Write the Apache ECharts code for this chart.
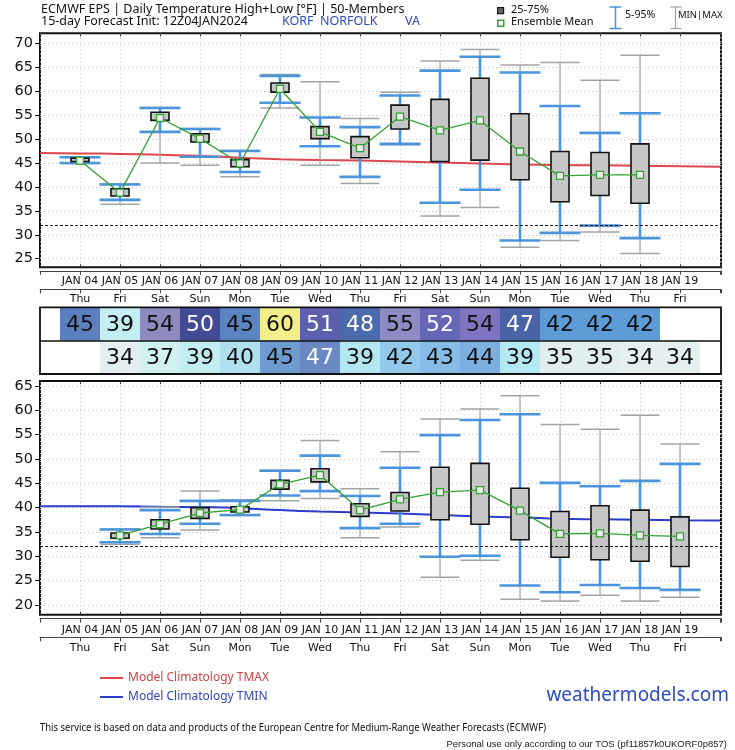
<!DOCTYPE html>
<html><head><meta charset="utf-8">
<script src="https://cdn.jsdelivr.net/npm/echarts@6/dist/echarts.min.js"></script>
<style>html,body{margin:0;padding:0;background:#fff}#c{width:735px;height:750px}</style>
</head><body><div id="c"></div>
<script>
// ---------- data ----------
const days = [4,5,6,7,8,9,10,11,12,13,14,15,16,17,18,19];
const dateLabels = ['JAN 04','JAN 05','JAN 06','JAN 07','JAN 08','JAN 09','JAN 10','JAN 11','JAN 12','JAN 13','JAN 14','JAN 15','JAN 16','JAN 17','JAN 18','JAN 19'];
const weekdays = ['Thu','Fri','Sat','Sun','Mon','Tue','Wed','Thu','Fri','Sat','Sun','Mon','Tue','Wed','Thu','Fri'];

const highDays = [4,5,6,7,8,9,10,11,12,13,14,15,16,17,18];
const highMin  = [44.9,36.4,45.0,44.5,42.1,56.5,44.5,40.7,48.8,33.9,35.7,27.4,28.8,30.6,26.1];
const highP5   = [45.0,37.3,51.5,46.3,43.1,57.6,48.5,42.1,49.0,36.7,39.4,28.8,30.4,31.9,29.3];
const highQ1   = [45.3,38.1,53.9,49.4,44.2,59.8,50.1,46.1,52.1,45.3,45.6,41.5,36.9,38.2,36.6];
const highQ3   = [46.0,39.6,55.6,51.1,45.7,61.7,52.6,50.5,57.1,58.3,62.7,55.3,47.4,47.2,49.0];
const highP95  = [46.2,40.5,56.5,52.1,47.5,63.2,54.5,52.5,59.1,64.3,67.2,63.9,56.9,51.3,55.4];
const highMax  = [46.3,40.6,56.6,52.2,47.6,63.5,62.0,54.3,59.8,66.3,68.7,65.5,66.0,62.3,67.5];
const highMean = [45.5,38.8,54.4,50.1,44.9,60.5,51.5,48.1,54.7,51.8,53.9,47.4,42.3,42.5,42.5];
const highTable = [45,39,54,50,45,60,51,48,55,52,54,47,42,42,42];

const lowDays = [5,6,7,8,9,10,11,12,13,14,15,16,17,18,19];
const lowMin  = [32.5,33.8,35.4,38.4,41.4,41.9,33.8,36.0,25.7,29.2,21.2,20.8,22.0,20.8,21.6];
const lowP5   = [32.9,34.6,36.7,38.5,42.5,43.4,35.8,36.7,29.9,30.1,24.0,22.6,24.1,23.5,23.1];
const lowQ1   = [33.7,35.6,37.8,39.1,43.8,45.3,38.2,39.3,37.5,36.6,33.4,29.8,29.3,29.0,27.9];
const lowQ3   = [34.8,37.5,40.0,40.2,45.6,48.0,40.8,43.1,48.3,49.1,44.0,39.2,40.4,39.5,38.1];
const lowP95  = [35.5,39.5,41.4,41.4,47.6,50.7,42.4,48.2,54.9,58.0,59.2,45.1,44.4,45.5,49.0];
const lowMax  = [35.6,40.1,43.4,41.6,47.7,53.8,43.9,51.5,58.2,60.3,63.0,57.1,56.1,59.0,53.1];
const lowMean = [34.3,36.6,38.9,39.6,44.8,46.7,39.5,41.7,43.2,43.6,39.4,34.6,34.7,34.3,34.1];
const lowTable = [34,37,39,40,45,47,39,42,43,44,39,35,35,34,34];

const climDays = [3,4,5,6,7,8,9,10,11,12,13,14,15,16,17,18,19,20];
const climTmax = [47.1,47.0,46.9,46.7,46.5,46.1,45.8,45.6,45.5,45.3,45.1,44.9,44.7,44.6,44.5,44.4,44.3,44.2];
const climTmin = [40.3,40.3,40.3,40.2,40.1,39.9,39.5,39.2,39.0,38.8,38.5,38.2,38.0,37.7,37.6,37.5,37.4,37.35];

const yTicksHigh = [25,30,35,40,45,50,55,60,65,70];
const yTicksLow  = [20,25,30,35,40,45,50,55,60,65];
const freezing = 32;

// ---------- styles ----------
const highCellColors = ['#5b80bd','#c4eef2','#8c8abf','#434b95','#5b84c2','#f2ee8a','#5c5fae','#4c6aae','#8e8cc4','#6666b6','#7f74bf','#4a62a8','#5d9bd6','#5d9bd6','#5d9bd6'];
const highTextColors = ['#111','#111','#111','#fff','#111','#111','#fff','#fff','#111','#fff','#111','#fff','#111','#111','#111'];
const lowCellColors  = ['#e2eef0','#d0f0f2','#c2eef2','#aee0f0','#6f9cd0','#6a88c4','#b4e6f2','#92c8ea','#86bce6','#7cb0e0','#b4e8f2','#e0eef0','#e0eef0','#e4eff0','#e4eff0'];
const lowTextColors  = ['#111','#111','#111','#111','#111','#fff','#111','#111','#111','#111','#111','#111','#111','#111','#111'];

const BLUE = '#4a95dc', GRAY = '#a3a3a3', GREEN = '#35a035';
const AXF = 'DejaVu Sans';
const X0 = 3, X1 = 20.025;

function zip(xs, ...cols){ return xs.map((x,i)=>[x, ...cols.map(c=>c[i])]); }

function boxRender(params, api){
  const x = api.value(0);
  const yy = i => api.coord([x, api.value(i)])[1];
  const cx = api.coord([x, api.value(1)])[0];
  const yMin=yy(1), y5=yy(2), yq1=yy(3), yq3=yy(4), y95=yy(5), yMax=yy(6);
  const capG = 19.5, capB = 20.5, bw = 9;
  return {type:'group', children:[
    {type:'line', shape:{x1:cx,y1:yMin,x2:cx,y2:yMax}, style:{stroke:GRAY,lineWidth:1.2}},
    {type:'line', shape:{x1:cx-capG,y1:yMin,x2:cx+capG,y2:yMin}, style:{stroke:GRAY,lineWidth:1.5}},
    {type:'line', shape:{x1:cx-capG,y1:yMax,x2:cx+capG,y2:yMax}, style:{stroke:GRAY,lineWidth:1.5}},
    {type:'line', shape:{x1:cx,y1:y5,x2:cx,y2:y95}, style:{stroke:BLUE,lineWidth:2.6}},
    {type:'line', shape:{x1:cx-capB,y1:y5,x2:cx+capB,y2:y5}, style:{stroke:BLUE,lineWidth:2.6}},
    {type:'line', shape:{x1:cx-capB,y1:y95,x2:cx+capB,y2:y95}, style:{stroke:BLUE,lineWidth:2.6}},
    {type:'rect', shape:{x:cx-bw,y:yq3,width:2*bw,height:Math.max(yq1-yq3,1)}, style:{fill:'#c6c6c6',stroke:'#111',lineWidth:1.6}}
  ]};
}

function cellRender(colors, texts){
  return function(params, api){
    const d = api.value(0), row = api.value(1), v = api.value(2);
    const a = api.coord([d-0.5, row+1]);
    const b = api.coord([d+0.5, row]);
    return {type:'group', children:[
      {type:'rect', shape:{x:a[0], y:a[1], width:b[0]-a[0], height:b[1]-a[1]}, style:{fill:colors[params.dataIndex], stroke:null}},
      {type:'text', x:(a[0]+b[0])/2, y:(a[1]+b[1])/2+1, style:{text:String(v), fill:texts[params.dataIndex], font:'22px "DejaVu Sans"', align:'center', verticalAlign:'middle'}}
    ]};
  };
}

function fmtRow(labels){
  return function(v){
    const r = Math.round(v);
    if (Math.abs(v - r) > 1e-6) return '';
    const i = days.indexOf(r);
    return i >= 0 ? labels[i] : '';
  };
}

function plotAxes(gi){
  return [
    {gridIndex:gi, type:'value', min:X0, max:X1, interval:1, position:'bottom',
     axisLine:{show:false}, axisTick:{show:true, inside:true, length:3, lineStyle:{color:'#333'}},
     axisLabel:{show:false}, splitLine:{show:true, lineStyle:{color:'#c4c4c4', type:[1,3], width:1}}},
    {gridIndex:gi, type:'value', min:X0, max:X1, interval:1, position:'top',
     axisLine:{show:false}, axisTick:{show:true, inside:true, length:3, lineStyle:{color:'#333'}},
     axisLabel:{show:false}, splitLine:{show:false}}
  ];
}
function rowAxis(gi, offset, labels, margin){
  return {gridIndex:gi, type:'value', min:X0, max:X1, interval:1, position:'bottom', offset:offset,
    axisLine:{show:true, lineStyle:{color:'#444', width:1}},
    axisTick:{show:true, length:4, lineStyle:{color:'#444'}},
    axisLabel:{show:true, formatter:fmtRow(labels), margin:margin, fontFamily:AXF, fontSize:11, color:'#111', showMinLabel:true, showMaxLabel:true},
    splitLine:{show:false}};
}
function yAxisPlot(gi, min, max, ticks){
  return {gridIndex:gi, type:'value', min:min, max:max,
    axisLine:{show:false},
    axisTick:{show:true, length:5, customValues:ticks, lineStyle:{color:'#111'}},
    axisLabel:{show:true, customValues:ticks, margin:7, fontFamily:AXF, fontSize:14.5, color:'#111'},
    splitLine:{show:true, lineStyle:{color:'#c4c4c4', type:[1,3], width:1}}};
}

const xAxes = [
  ...plotAxes(0),                       // 0,1
  rowAxis(0, 3.5, dateLabels, 4.5),     // 2
  rowAxis(0, 22, weekdays, 4.5),        // 3
  {gridIndex:1, type:'value', min:X0, max:X1, show:false}, // 4
  ...plotAxes(2),                       // 5,6
  rowAxis(2, 4, dateLabels, 5.5),       // 7
  rowAxis(2, 22.6, weekdays, 5),        // 8
];
const yAxes = [
  yAxisPlot(0, 23.2, 72.1, yTicksHigh),
  {gridIndex:1, type:'value', min:0, max:2, show:false},
  yAxisPlot(2, 18.0, 66.03, yTicksLow)
];

const gridStyle = {show:true, borderColor:'#111', borderWidth:2, backgroundColor:'transparent', containLabel:false, outerBoundsMode:'none'};

const option = {
  animation:false,
  backgroundColor:'#fff',
  grid:[
    {...gridStyle, left:40, top:33.3, width:681, height:234},
    {...gridStyle, left:40, top:307.3, width:681, height:66.7, z:10, borderWidth:1.8},
    {...gridStyle, left:40, top:381, width:681, height:233.7}
  ],
  xAxis: xAxes,
  yAxis: yAxes,
  legend:{
    orient:'vertical', left:95, top:667, itemGap:7, itemWidth:23, itemHeight:2, icon:'rect',
    textStyle:{fontFamily:'Noto Sans', fontSize:12},
    data:[
      {name:'Model Climatology TMAX', textStyle:{color:'#cc4444'}},
      {name:'Model Climatology TMIN', textStyle:{color:'#3344bb'}}
    ]
  },
  series:[
    // HIGH panel
    {name:'Model Climatology TMAX', type:'line', xAxisIndex:0, yAxisIndex:0, data:zip(climDays, climTmax),
     smooth:true, symbol:'none', lineStyle:{color:'#e0474c', width:2}, itemStyle:{color:'#e0474c'}, z:3,
     markLine:{silent:true, symbol:'none', label:{show:false}, lineStyle:{color:'#111', type:[3,2], width:1.2}, data:[{yAxis:freezing}]}},
    {type:'custom', name:'highBox', xAxisIndex:0, yAxisIndex:0, renderItem:boxRender,
     data:zip(highDays, highMin, highP5, highQ1, highQ3, highP95, highMax), encode:{x:0, y:[1,2,3,4,5,6]}, z:4},
    {type:'line', name:'highMean', xAxisIndex:0, yAxisIndex:0, data:zip(highDays, highMean),
     symbol:'rect', symbolSize:7, lineStyle:{color:GREEN, width:1.3}, itemStyle:{color:'#eeeeee', borderColor:GREEN, borderWidth:1.3}, z:6},
    // table
    {type:'custom', name:'highTable', xAxisIndex:4, yAxisIndex:1, renderItem:cellRender(highCellColors, highTextColors),
     data:highDays.map((d,i)=>[d,1,highTable[i]]), encode:{x:0,y:1}, z:3,
     markLine:{silent:true, symbol:'none', label:{show:false}, lineStyle:{color:'#111', type:'solid', width:1.5}, data:[{yAxis:1}]}},
    {type:'custom', name:'lowTable', xAxisIndex:4, yAxisIndex:1, renderItem:cellRender(lowCellColors, lowTextColors),
     data:lowDays.map((d,i)=>[d,0,lowTable[i]]), encode:{x:0,y:1}, z:3},
    // LOW panel
    {name:'Model Climatology TMIN', type:'line', xAxisIndex:5, yAxisIndex:2, data:zip(climDays, climTmin),
     smooth:true, symbol:'none', lineStyle:{color:'#2b3ccc', width:2}, itemStyle:{color:'#2b3ccc'}, z:3,
     markLine:{silent:true, symbol:'none', label:{show:false}, lineStyle:{color:'#111', type:[3,2], width:1.2}, data:[{yAxis:freezing}]}},
    {type:'custom', name:'lowBox', xAxisIndex:5, yAxisIndex:2, renderItem:boxRender,
     data:zip(lowDays, lowMin, lowP5, lowQ1, lowQ3, lowP95, lowMax), encode:{x:0, y:[1,2,3,4,5,6]}, z:4},
    {type:'line', name:'lowMean', xAxisIndex:5, yAxisIndex:2, data:zip(lowDays, lowMean),
     symbol:'rect', symbolSize:7, lineStyle:{color:GREEN, width:1.3}, itemStyle:{color:'#eeeeee', borderColor:GREEN, borderWidth:1.3}, z:6}
  ],
  graphic:[
    {type:'text', left:41, top:3, style:{text:'ECMWF EPS | Daily Temperature High+Low [°F] | 50-Members', font:'12.5px "Noto Sans"', fill:'#111'}},
    {type:'text', left:41, top:15, style:{text:'15-day Forecast Init: 12Z04JAN2024', font:'12.5px "Noto Sans"', fill:'#111'}},
    {type:'text', left:282, top:15, style:{text:'KORF  NORFOLK', font:'12.5px "Noto Sans"', fill:'#2b4bbf'}},
    {type:'text', left:405, top:15, style:{text:'VA', font:'12.5px "Noto Sans"', fill:'#2b4bbf'}},
    {type:'rect', left:497, top:7, shape:{width:6, height:6}, style:{fill:'#666', stroke:'#111', lineWidth:1.2}},
    {type:'text', left:511, top:4, style:{text:'25-75%', font:'11px "Noto Sans"', fill:'#111'}},
    {type:'rect', left:497, top:19.5, shape:{width:6, height:6}, style:{fill:'#fff', stroke:GREEN, lineWidth:1.5}},
    {type:'text', left:511, top:16, style:{text:'Ensemble Mean', font:'11px "Noto Sans"', fill:'#111'}},
    {type:'group', left:607, top:4, children:[
      {type:'line', shape:{x1:7,y1:0,x2:7,y2:22.5}, style:{stroke:BLUE, lineWidth:1.5}},
      {type:'line', shape:{x1:1,y1:0.5,x2:13,y2:0.5}, style:{stroke:BLUE, lineWidth:1.5}},
      {type:'line', shape:{x1:1,y1:22,x2:13,y2:22}, style:{stroke:BLUE, lineWidth:1.5}}
    ]},
    {type:'text', left:625, top:10, style:{text:'5-95%', font:'10.5px "Noto Sans"', fill:'#111'}},
    {type:'group', left:668, top:4, children:[
      {type:'line', shape:{x1:6,y1:0,x2:6,y2:22.5}, style:{stroke:GRAY, lineWidth:1.2}},
      {type:'line', shape:{x1:1,y1:0.5,x2:12,y2:0.5}, style:{stroke:GRAY, lineWidth:1.2}},
      {type:'line', shape:{x1:1,y1:22,x2:12,y2:22}, style:{stroke:GRAY, lineWidth:1.2}}
    ]},
    {type:'text', left:678, top:10, style:{text:'MIN|MAX', font:'9.5px "Noto Sans"', fill:'#111'}},
    {type:'text', right:6, top:686, style:{text:'weathermodels.com', font:'19px "Noto Sans"', fill:'#2b4bbf'}},
    {type:'text', left:40, top:722, scaleX:0.86, originX:40, style:{text:'This service is based on data and products of the European Centre for Medium-Range Weather Forecasts (ECMWF)', font:'11px "Noto Sans"', fill:'#111'}},
    {type:'text', right:8, top:739, style:{text:'Personal use only according to our TOS (pf11857k0UKORF0p857)', font:'9.5px "Liberation Sans"', fill:'#222'}}
  ]
};
const chart = echarts.init(document.getElementById('c'));
chart.setOption(option);
</script>
</body></html>
